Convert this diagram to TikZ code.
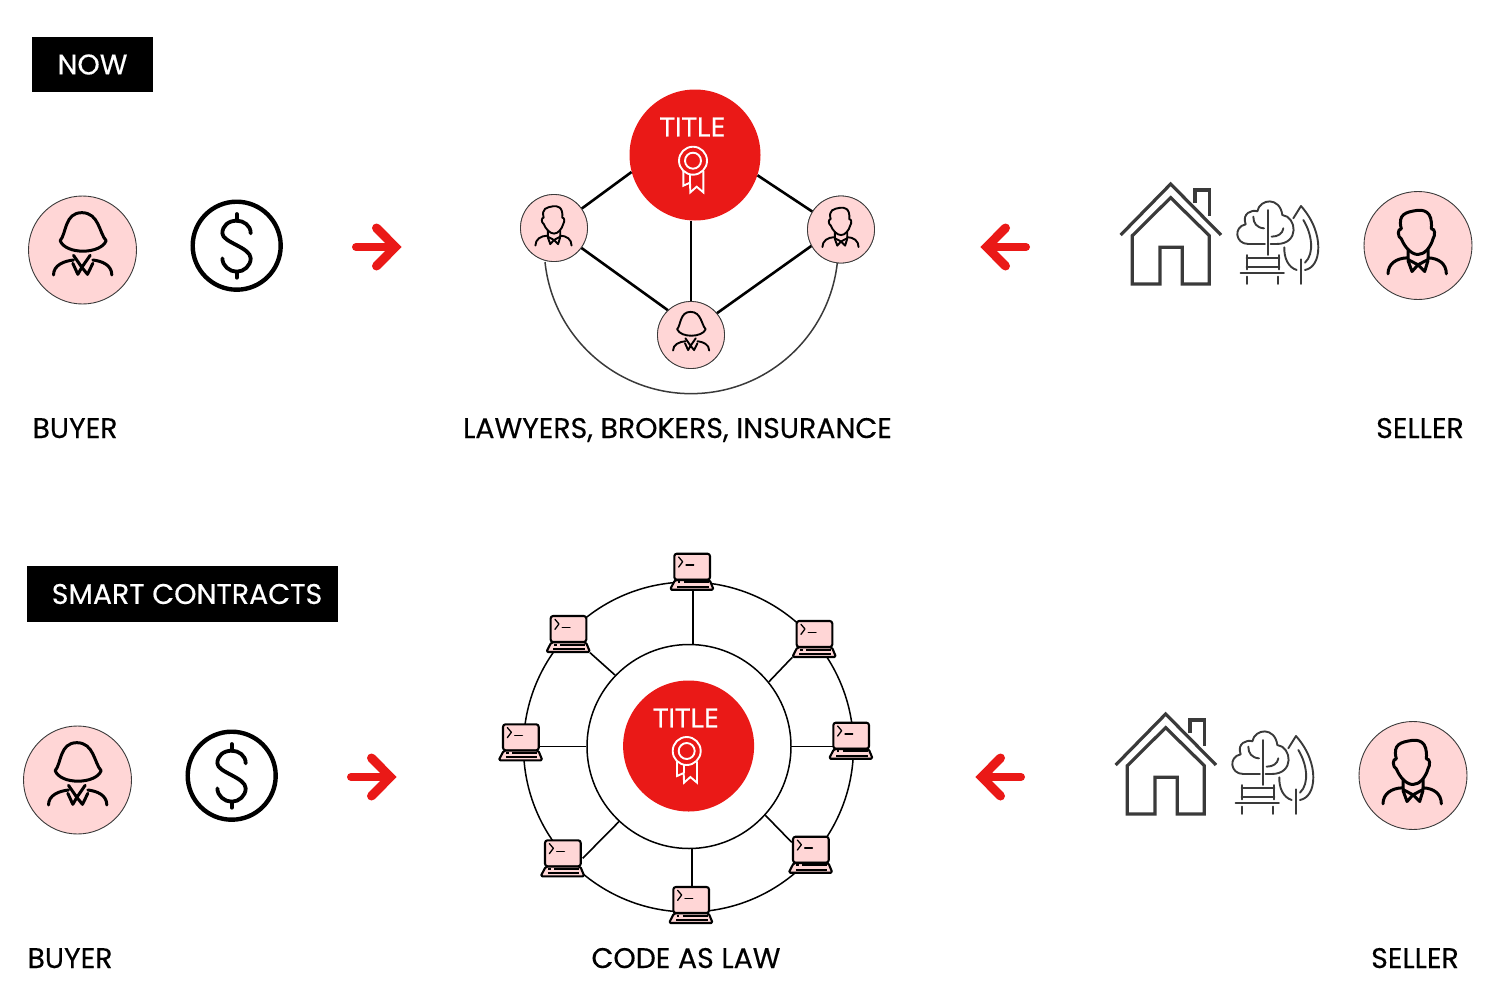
\documentclass[tikz,border=0pt]{standalone}
\usepackage{fontspec}
\setmainfont{Poppins}
\newfontfamily\capfont[FakeBold=0.35]{Poppins}
\newfontfamily\titlefont[FakeBold=0.9]{Open Sans}
\definecolor{redc}{HTML}{EA1917}
\definecolor{pinkc}{HTML}{FFD6D6}
\definecolor{greyc}{HTML}{3A3A3A}
\tikzset{
  x=1pt,y=1pt,
  zoomed/.style={x=.3333pt,y=-.3333pt,line cap=round,line join=round},
  bigperson/.style={circle,draw=greyc,line width=.9pt,fill=pinkc,minimum size=108pt,inner sep=0pt},
  smallperson/.style={circle,draw=greyc,line width=.8pt,fill=pinkc,minimum size=67pt,inner sep=0pt},
  redcircle/.style={circle,fill=redc,minimum size=131pt,inner sep=0pt},
  money/.style={circle,draw=black,line width=4.4pt,minimum size=88pt,inner sep=0pt},
  tag/.style={fill=black,text=white,inner sep=0pt,font=\capfont\fontsize{28.4}{30}\selectfont},
  caption/.style={anchor=base,inner sep=0pt,font=\capfont\fontsize{28.4}{30}\selectfont},
  titletext/.style={text=white,inner sep=0pt,font=\titlefont\fontsize{26.5}{30}\selectfont},
  link/.style={draw=black,line width=2.6pt},
  thin link/.style={draw=black,line width=1.6pt},
  ring/.style={draw=black,line width=1.5pt,circle,inner sep=0pt},
  pics/woman/.style={code={\begin{scope}[zoomed]
    \draw (-67,-28) .. controls (-48,-50) and (-54,-112) .. (-2,-112) .. controls (50,-112) and (50,-50) .. (71,-28) .. controls (55,13) and (-50,15) .. cycle;
    \draw (-27,16) -- (-2,52) -- (23,16);
    \draw (-87,75) .. controls (-87,45) and (-55,33) .. (-27,30);
    \draw (88,75) .. controls (88,45) and (58,33) .. (31,30);
    \draw (-29,40) -- (-14,73) -- (-2,52) -- (15,73) -- (31,40);
  \end{scope}}},
  pics/man/.style={code={\begin{scope}[zoomed]
    \draw (-50,-50) .. controls (-62,-95) and (-35,-100) .. (-5,-105) .. controls (15,-108) and (45,-105) .. (40,-50)
      .. controls (52,-52) and (52,-30) .. (45,-20) .. controls (38,5) and (20,27) .. (0,27) .. controls (-20,27) and (-40,5) .. (-50,-20)
      .. controls (-62,-25) and (-62,-52) .. cycle;
    \draw (-30,12) -- (-30,42) -- (0,58) -- (30,42) -- (30,12);
    \draw (-90,85) .. controls (-90,55) and (-65,38) .. (-32,37);
    \draw (85,85) .. controls (85,55) and (62,38) .. (30,37);
    \draw (-30,45) -- (-18,78) -- (0,58) -- (20,78) -- (30,45);
  \end{scope}}},
  pics/dollarsign/.style={code={\begin{scope}[zoomed,line width=3.8pt]
    \draw (42,-37) .. controls (42,-62) and (20,-75) .. (0,-75) .. controls (-25,-75) and (-43,-60) .. (-43,-37)
      .. controls (-43,-10) and (42,5) .. (42,38) .. controls (42,60) and (22,78) .. (0,78) .. controls (-22,78) and (-43,60) .. (-43,38);
    \draw (0,-95) -- (0,-75);
    \draw (0,78) -- (0,96);
  \end{scope}}},
  pics/house/.style={code={\begin{scope}[zoomed,draw=greyc,line width=3.2pt,line cap=butt,line join=miter]
    \draw (62,195) -- (212,42) -- (363,195);
    \draw (97,197) -- (212,83) -- (328,197) -- (328,342) -- (247,342) -- (247,232) -- (180,232) -- (180,342) -- (97,342) -- cycle;
    \draw (285,100) -- (285,60) -- (328,60) -- (328,138);
  \end{scope}}},
  pics/park/.style={code={\begin{scope}[zoomed,draw=greyc,line width=1.9pt]
    \draw (495,222) -- (445,222) .. controls (405,222) and (400,170) .. (437,163) .. controls (425,130) and (455,118) .. (472,124)
      .. controls (480,85) and (540,80) .. (547,135) .. controls (590,140) and (600,222) .. (530,222) -- (512,222);
    \draw (503,120) -- (503,255);
    \draw (460,140) .. controls (460,160) and (470,173) .. (492,175);
    \draw (550,175) .. controls (548,190) and (535,200) .. (515,200);
    \draw (440,255) -- (440,298);
    \draw (538,255) -- (538,298);
    \draw (440,265) -- (538,265);
    \draw (440,290) -- (538,290);
    \draw (422,310) -- (552,310);
    \draw (440,320) -- (440,342);
    \draw (535,320) -- (535,342);
    \draw (580,145) -- (603,108) .. controls (640,150) and (655,195) .. (655,232) .. controls (655,270) and (640,295) .. (615,300);
    \draw (553,232) .. controls (552,265) and (565,292) .. (590,300);
    \draw (610,150) .. controls (635,190) and (645,250) .. (615,278);
    \draw (603,268) -- (603,342);
  \end{scope}}},
  pics/ribbon/.style={code={\begin{scope}[zoomed,draw=white,line width=1.9pt,line cap=butt,line join=miter]
    \draw (0,0) circle[radius=42];
    \draw (0,0) circle[radius=24];
    \draw (-29,31) -- (-29,75) -- (-9,66) -- (-8,95) -- (11,78) -- (31,95) -- (31,31);
    \draw (-9,40) -- (-9,66);
  \end{scope}}},
  pics/laptop/.style={code={\begin{scope}[zoomed,line width=2.1pt]
    \draw[fill=pinkc,rounded corners=2.5pt] (-56,-54) rectangle (51,24);
    \draw[fill=pinkc,rounded corners=1.5pt] (-54,25) -- (50,25) -- (62,54) -- (-69,54) -- cycle;
    \draw[line width=1.3pt] (-43,-44) -- (-31,-30) -- (-43,-14);
    \draw[line width=1.3pt] (-21,-20) -- (2,-20);
    \draw[line width=2pt,line cap=butt] (-46,32) -- (-38,32);
    \draw[line width=2pt,line cap=butt] (-28,32) -- (47,32);
    \draw[line width=2pt,line cap=butt] (-48,45) -- (47,45);
  \end{scope}}},
  pics/redarrow/.style={code={\begin{scope}[draw=redc,line cap=round]
    \draw[line width=8pt] (-21,0) -- (16,0);
    \draw[line width=9pt,line join=miter] (-.5,19) -- (18.3,0) -- (-.5,-19);
  \end{scope}}},
}
\begin{document}
\begin{tikzpicture}
\useasboundingbox (0,0) rectangle (1500,-983);

% ---------- NOW ----------
\node[tag,minimum width=121pt,minimum height=55pt] (now) at (92.5,-64.5) {\raisebox{-1pt}{NOW}};

\node[bigperson] (buyerA) at (82.5,-250) {};
\pic[line width=3pt] at (buyerA.center) {woman};
\node[money] (moneyA) at (236.7,-245.7) {};
\pic at (moneyA.center) {dollarsign};
\pic at (377,-247) {redarrow};

% hub
\node[smallperson] (lawyerL) at (554,-228) {};
\node[smallperson] (lawyerR) at (841,-229.5) {};
\node[smallperson] (lawyerW) at (691,-335) {};
\node[redcircle] (titleA) at (695,-155) {};

\coordinate (arcstart) at (545,-262);
\draw[draw=greyc,line width=1.5pt] (arcstart) arc[start angle=186,end angle=354,radius=147];
\draw[link] (titleA.195) -- (lawyerL.35);
\draw[link] (titleA.-18) -- (lawyerR.148);
\draw[link] (lawyerW |- titleA.south) -- (lawyerW.north);
\draw[link] (lawyerL.-36) -- (lawyerW.133);
\draw[link] (lawyerR.209) -- (lawyerW.40.6);
\node[smallperson] at (lawyerL) {};
\node[smallperson] at (lawyerR) {};
\node[smallperson] at (lawyerW) {};
\pic[scale=.62,line width=1.9pt] at (lawyerL.center) {man};
\pic[scale=.62,line width=1.9pt] at (lawyerR.center) {man};
\pic[scale=.62,line width=1.9pt] at (lawyerW.center) {woman};
\node[titletext] (titletextA) at (692.5,-127) {TITLE};
\pic at (693,-160.7) {ribbon};

\pic[xscale=-1] at (1005,-247) {redarrow};
\pic at (1100,-170) {house};
\pic at (1100,-170) {park};
\node[bigperson] (sellerA) at (1418,-245.5) {};
\pic[line width=3pt] at (sellerA.center) {man};

\node[caption] (capbuyerA) at (75,-438) {BUYER};
\node[caption] (caphubA) at (677.5,-438) {LAWYERS, BROKERS, INSURANCE};
\node[caption] (capsellerA) at (1420,-438) {SELLER};

% ---------- SMART CONTRACTS ----------
\node[tag,minimum width=311pt,minimum height=56pt] (smart) at (182.5,-594) {\hspace*{9pt}\raisebox{-1pt}{SMART CONTRACTS}};

\node[bigperson] (buyerB) at (77.5,-780) {};
\pic[line width=3pt] at (buyerB.center) {woman};
\node[money] (moneyB) at (231.7,-775.7) {};
\pic at (moneyB.center) {dollarsign};
\pic at (372,-777) {redarrow};

\node[ring,minimum size=330pt] (outer) at (688.5,-747) {};
\coordinate (lapA) at (693,-571.7);
\coordinate (lapB) at (815.3,-639);
\coordinate (lapC) at (852,-740.7);
\coordinate (lapD) at (811.7,-854.7);
\coordinate (lapE) at (692,-905);
\coordinate (lapF) at (563.7,-858.3);
\coordinate (lapG) at (521.7,-742.3);
\coordinate (lapH) at (569.3,-634);
\coordinate (endB) at (792.3,-657.3);
\coordinate (endD) at (791.7,-842.3);
\coordinate (endF) at (582.7,-858.3);
\coordinate (endH) at (590,-652.7);
\node[ring,fill=white,minimum size=204pt] (inner) at (689,-746.5) {};
\draw[thin link] (lapA) -- (lapA |- inner.north);
\draw[thin link] (inner.39.8) -- (endB);
\draw[thin link] (inner.east) -- (inner.east -| lapC);
\draw[thin link] (inner.-42.4) -- (endD);
\draw[thin link] (lapE) -- (lapE |- inner.south);
\draw[thin link] (inner.227.3) -- (endF);
\draw[thin link] (inner.west) -- (inner.west -| lapG);
\draw[thin link] (inner.136.6) -- (endH);
\foreach \p in {lapA,lapB,lapC,lapD,lapE,lapF,lapG,lapH}{\pic at (\p) {laptop};}
\node[redcircle] (titleB) at (688.6,-746) {};
\node[titletext] (titletextB) at (686,-718) {TITLE};
\pic at (686.7,-751) {ribbon};

\pic[xscale=-1] at (1000,-777) {redarrow};
\pic at (1095,-700) {house};
\pic at (1095,-700) {park};
\node[bigperson] (sellerB) at (1413,-775.5) {};
\pic[line width=3pt] at (sellerB.center) {man};

\node[caption] (capbuyerB) at (70,-968) {BUYER};
\node[caption] (caphubB) at (686,-968) {CODE AS LAW};
\node[caption] (capsellerB) at (1415,-968) {SELLER};
\end{tikzpicture}
\end{document}
